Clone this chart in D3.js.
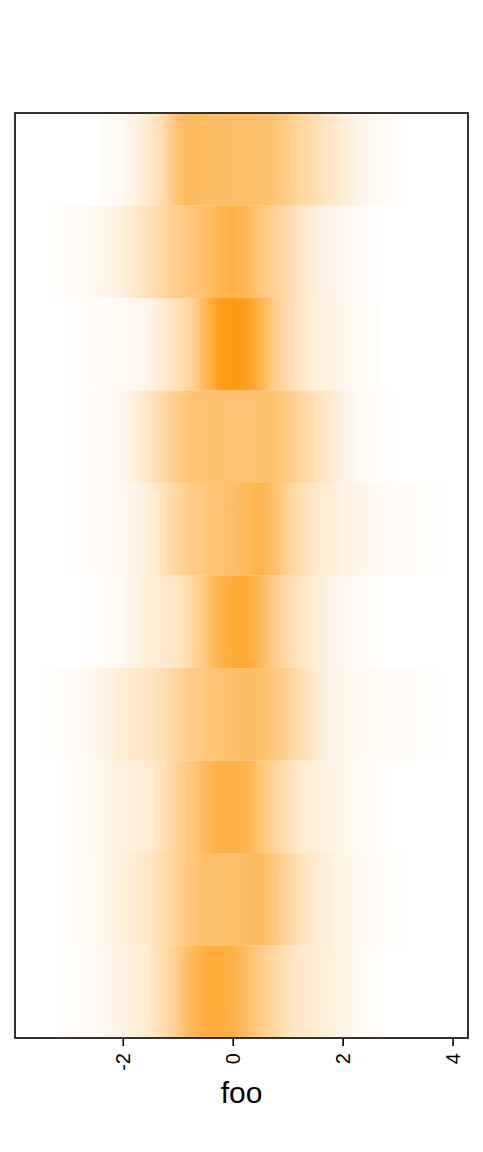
<!DOCTYPE html>
<html>
<head>
<meta charset="utf-8">
<script src="https://cdn.jsdelivr.net/npm/d3@7"></script>
<style>
  body { margin: 0; background: #fff; }
  svg { display: block; font-family: "Liberation Sans", Arial, sans-serif; }
</style>
</head>
<body>
<svg id="chart" width="483" height="1152"></svg>
<script>
// DATA
// density grid positions along foo (shared by all rows)
var gridX = [-3.5,-3.25,-3,-2.75,-2.5,-2.25,-2,-1.75,-1.5,-1.25,-1,-0.75,-0.5,-0.25,0,0.25,0.5,0.75,1,1.25,1.5,1.75,2,2.25,2.5,2.75,3,3.25,3.5,3.75,4];
var rowIds = [1,2,3,4,5,6,7,8,9,10];
// data range for each row (min, max)
var rowLo = [-2.41,-3.32,-3.0,-3.0,-3.0,-2.72,-3.45,-3.2,-3.23,-3.23];
var rowHi = [3.17,2.64,2.68,3.04,3.9,2.74,3.83,2.92,3.17,2.74];
// relative density (0-1) per row at gridX
var dens1 = [0,0,0,0,0.01,0.03,0.06,0.12,0.22,0.35,0.62,0.68,0.65,0.64,0.63,0.63,0.62,0.58,0.5,0.4,0.32,0.25,0.18,0.12,0.07,0.04,0.02,0,0,0,0];
var dens2 = [0,0.02,0.03,0.05,0.07,0.1,0.15,0.22,0.3,0.4,0.48,0.55,0.62,0.72,0.78,0.7,0.55,0.45,0.35,0.22,0.14,0.1,0.06,0.04,0.02,0,0,0,0,0,0];
var dens3 = [0,0,0.01,0.02,0.03,0.04,0.05,0.06,0.1,0.2,0.3,0.42,0.7,0.95,1,0.95,0.75,0.5,0.35,0.22,0.15,0.12,0.08,0.05,0.03,0.01,0,0,0,0,0];
var dens4 = [0,0,0.01,0.02,0.03,0.05,0.08,0.15,0.25,0.38,0.5,0.58,0.6,0.6,0.58,0.58,0.6,0.6,0.52,0.4,0.3,0.22,0.12,0.06,0.03,0.02,0.01,0,0,0,0];
var dens5 = [0,0,0.01,0.02,0.03,0.05,0.07,0.1,0.15,0.3,0.42,0.5,0.55,0.6,0.62,0.68,0.75,0.62,0.45,0.3,0.22,0.18,0.12,0.1,0.07,0.05,0.04,0.03,0.02,0.01,0];
var dens6 = [0,0,0,0.01,0.02,0.03,0.06,0.12,0.18,0.2,0.25,0.38,0.55,0.75,0.82,0.85,0.7,0.5,0.35,0.25,0.18,0.12,0.07,0.04,0.02,0.01,0,0,0,0,0];
var dens7 = [0.01,0.02,0.03,0.05,0.08,0.12,0.18,0.22,0.25,0.32,0.42,0.5,0.55,0.6,0.62,0.65,0.62,0.55,0.45,0.32,0.2,0.12,0.08,0.06,0.05,0.04,0.03,0.03,0.02,0.01,0];
var dens8 = [0,0.01,0.02,0.04,0.07,0.1,0.13,0.16,0.2,0.3,0.45,0.55,0.68,0.78,0.78,0.75,0.58,0.42,0.3,0.2,0.15,0.12,0.08,0.05,0.03,0.02,0.01,0,0,0,0];
var dens9 = [0,0.01,0.02,0.04,0.06,0.1,0.15,0.2,0.25,0.35,0.45,0.55,0.62,0.62,0.62,0.65,0.68,0.55,0.4,0.28,0.2,0.15,0.1,0.07,0.05,0.03,0.02,0.01,0,0,0];
var dens10 = [0,0.01,0.02,0.03,0.05,0.08,0.12,0.16,0.22,0.35,0.5,0.68,0.8,0.82,0.78,0.65,0.5,0.38,0.28,0.22,0.18,0.14,0.1,0.06,0.03,0.01,0,0,0,0,0];
var densRows = [dens1,dens2,dens3,dens4,dens5,dens6,dens7,dens8,dens9,dens10];
var xTicks = [-2,0,2,4];
var xTickLabels = ["-2","0","2","4"];
var xTitle = "foo";

(function() {

	var margin = {left: 15, right: 15, top: 113, bottom: 114};
	var W = 483, H = 1152;
	var baseColor = "#ff9a10";

	var svg = d3.select('#chart');

	var x = d3.scaleLinear()
		.domain([-3.96, 4.28])
		.range([margin.left, W - margin.right]);

	var y = d3.scaleBand()
		.domain(rowIds)
		.range([margin.top, H - margin.bottom])
		.padding(0);

	var defs = svg.append('defs');

	rowIds.forEach(function(id, i) {
		var grad = defs.append('linearGradient')
			.attr('id', 'grad' + id)
			.attr('gradientUnits', 'userSpaceOnUse')
			.attr('x1', x(gridX[0])).attr('x2', x(gridX[gridX.length - 1]))
			.attr('y1', 0).attr('y2', 0);
		grad.selectAll('stop')
			.data(densRows[i])
			.enter().append('stop')
			.attr('offset', function(d, j) { return (j / (gridX.length - 1)); })
			.attr('stop-color', baseColor)
			.attr('stop-opacity', function(d) { return d; });
	});

	svg.append('g').selectAll('rect.strip')
		.data(rowIds)
		.enter().append('rect')
		.attr('class', 'strip')
		.attr('x', function(d, i) { return x(rowLo[i]); })
		.attr('width', function(d, i) { return x(rowHi[i]) - x(rowLo[i]); })
		.attr('y', function(d) { return y(d); })
		.attr('height', y.bandwidth())
		.attr('fill', function(d) { return 'url(#grad' + d + ')'; });

	// box
	svg.append('rect')
		.attr('x', margin.left).attr('y', margin.top)
		.attr('width', W - margin.left - margin.right)
		.attr('height', H - margin.top - margin.bottom)
		.attr('fill', 'none')
		.attr('stroke', '#000')
		.attr('stroke-width', 1.6);

	var axis = svg.append('g')
		.attr('transform', 'translate(0,' + (H - margin.bottom) + ')')
		.call(d3.axisBottom(x).tickValues(xTicks).tickSize(8)
			.tickFormat(function(d, i) { return xTickLabels[i]; }));
	axis.select('.domain').remove();
	axis.selectAll('.tick line').attr('stroke', '#000').attr('stroke-width', 1.6);
	axis.selectAll('.tick text')
		.attr('font-family', '"Liberation Sans", Arial, sans-serif')
		.attr('font-size', 20)
		.attr('fill', '#000')
		.attr('text-anchor', 'end')
		.attr('transform', 'rotate(-90)')
		.attr('x', -15)
		.attr('y', 0)
		.attr('dy', '0.35em');

	svg.append('text')
		.attr('x', (margin.left + W - margin.right) / 2)
		.attr('y', 1103)
		.attr('text-anchor', 'middle')
		.attr('font-size', 30)
		.attr('fill', '#000')
		.text(xTitle);

})()
</script>
</body>
</html>
